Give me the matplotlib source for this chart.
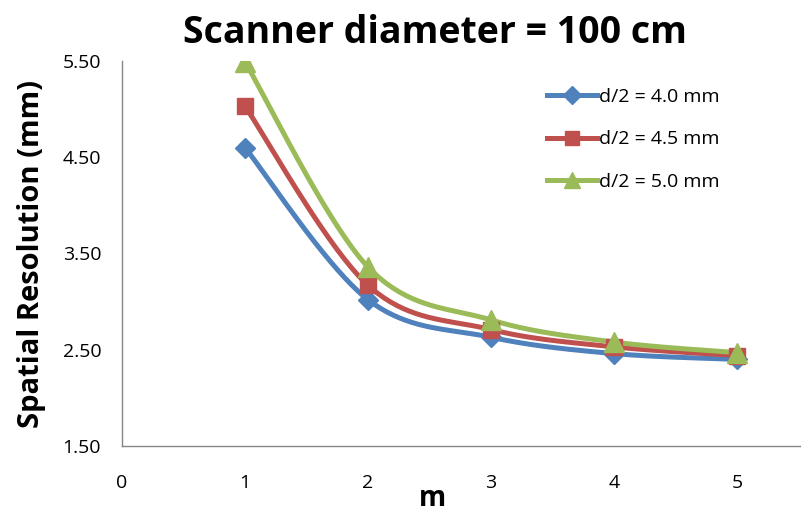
import numpy as np
import matplotlib
matplotlib.use("Agg")
import matplotlib.pyplot as plt

# ── Data ──────────────────────────────────────────────
m_values = [1, 2, 3, 4, 5]
res_d40 = [4.60, 3.02, 2.63, 2.46, 2.40]
res_d45 = [5.03, 3.17, 2.71, 2.53, 2.44]
res_d50 = [5.49, 3.36, 2.81, 2.58, 2.47]
series_labels = ["d/2 = 4.0 mm", "d/2 = 4.5 mm", "d/2 = 5.0 mm"]
y_ticks = [1.5, 2.5, 3.5, 4.5, 5.5]
x_ticks = [0, 1, 2, 3, 4, 5]

plt.rcParams["font.family"] = ["Open Sans", "DejaVu Sans"]


def smooth(x, y, n=40):
    """Catmull-Rom style smoothing (like Excel's smoothed line)."""
    x = np.asarray(x, float)
    y = np.asarray(y, float)
    px = np.concatenate([[x[0]], x, [x[-1]]])
    py = np.concatenate([[y[0]], y, [y[-1]]])
    xs, ys = [], []
    t = np.linspace(0, 1, n)
    for i in range(1, len(px) - 2):
        p0, p1, p2, p3 = [np.array([px[j], py[j]]) for j in (i - 1, i, i + 1, i + 2)]
        c1 = p1 + (p2 - p0) / 6
        c2 = p2 - (p3 - p1) / 6
        b = ((1 - t) ** 3)[:, None] * p1 + (3 * (1 - t) ** 2 * t)[:, None] * c1 \
            + (3 * (1 - t) * t ** 2)[:, None] * c2 + (t ** 3)[:, None] * p2
        xs.extend(b[:, 0])
        ys.extend(b[:, 1])
    return np.array(xs), np.array(ys)


fig = plt.figure(figsize=(8.01, 5.16), dpi=100)
ax = fig.add_axes([122 / 801, 1 - 446 / 516, 1 - 122 / 801, (446 - 61) / 516])

# colour, marker, marker size on curve, marker size in legend
styles = [
    ("#4F81BD", "D", 10, 9),
    ("#C0504D", "s", 12, 10),
    ("#9BBB59", "^", 14, 11),
]
for vals, label, (col, mk, ms, ms_leg) in zip([res_d40, res_d45, res_d50], series_labels, styles):
    sx, sy = smooth(m_values, vals)
    ax.plot(sx, sy, color=col, lw=3.6, solid_capstyle="round", zorder=2)
    ax.plot(m_values, vals, ls="none", marker=mk, ms=ms, color=col,
            markeredgecolor=col, zorder=3)
    ax.plot([], [], color=col, lw=3.6, marker=mk, ms=ms_leg, label=label)

ax.set_xlim(0, 679 / 123)
ax.set_ylim(1.5, 5.5)
ax.set_xticks(x_ticks)
ax.set_yticks(y_ticks)
ax.set_yticklabels([f"{v:.2f}" for v in y_ticks])
ax.tick_params(length=0, labelsize=14, colors="black")
ax.tick_params(axis="x", pad=20)
ax.tick_params(axis="y", pad=15)

for side in ("top", "right"):
    ax.spines[side].set_visible(False)
for side in ("left", "bottom"):
    ax.spines[side].set_color("#868686")
    ax.spines[side].set_linewidth(1.0)

ax.set_xlabel("m", fontsize=20, fontweight="bold")
ax.xaxis.set_label_coords(0.457, -0.1)
ax.set_ylabel("Spatial Resolution (mm)", fontsize=21, fontweight="bold", labelpad=12)
fig.text(0.543, 0.937, "Scanner diameter = 100 cm", fontsize=27, fontweight="bold",
         ha="center", va="center")

ax.legend(loc="upper left", bbox_to_anchor=(0.6, 0.975), frameon=False,
          fontsize=14, handlelength=2.6, handletextpad=0.1, labelspacing=1.25)

fig.savefig("out.png", dpi=100)
